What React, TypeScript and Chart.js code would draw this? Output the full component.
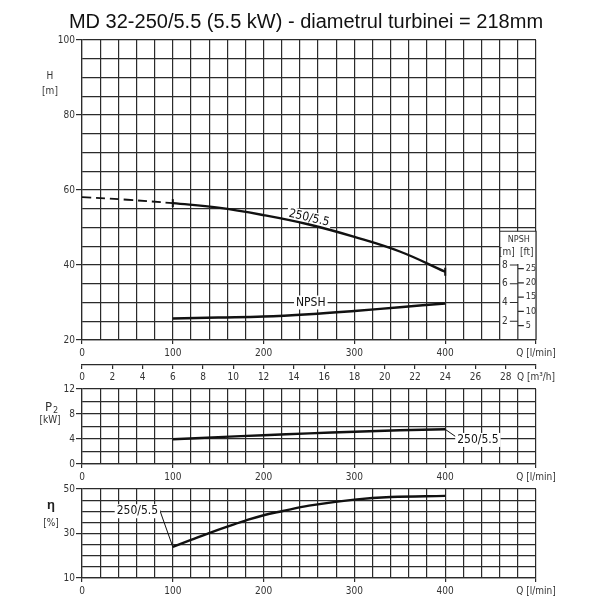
import { useEffect, useRef } from 'react';
import { Chart, registerables } from 'chart.js';

Chart.register(...registerables);

const TITLE = 'MD 32-250/5.5 (5.5 kW) - diametrul turbinei = 218mm';
const CURVE_NAME = '250/5.5';

// Head curve (dashed part below minimum flow, then solid)
const headDashQ = [0, 50, 100];
const headDashH = [58.1, 57.4, 56.5];
const headQ = [100, 150, 200, 250, 300, 350, 400];
const headH = [56.5, 55.3, 53.3, 50.8, 47.5, 43.6, 38.2];
// NPSH [m]
const npshQ = [100, 150, 200, 250, 300, 350, 400];
const npshM = [2.3, 2.4, 2.5, 2.75, 3.1, 3.5, 3.9];
// Power P2 [kW]
const powerQ = [100, 150, 200, 250, 300, 350, 400];
const powerKW = [3.95, 4.3, 4.6, 4.9, 5.15, 5.4, 5.55];
// Efficiency [%]
const effQ = [100, 120, 140, 160, 180, 200, 220, 250, 300, 340, 400];
const effPct = [24.0, 27.1, 30.2, 33.1, 35.8, 38.2, 40.0, 42.5, 45.2, 46.4, 46.9];

// Tick labels
const qTicks = [0, 100, 200, 300, 400];
const m3hTicks = [0, 2, 4, 6, 8, 10, 12, 14, 16, 18, 20, 22, 24, 26, 28];
const headTicks = [20, 40, 60, 80, 100];
const powerTicks = [0, 4, 8, 12];
const effTicks = [10, 30, 50];
const npshMTicks = [2, 4, 6, 8];
const npshFtTicks = [5, 10, 15, 20, 25];

const GRID = '#2b2b2b';
const TXT = '#333';
const INK = '#111';
const NARROW = "'Liberation Sans Narrow', 'DejaVu Sans Condensed', 'Roboto Condensed', 'Liberation Sans', sans-serif";
const tickFont = { family: NARROW, size: 10 };

const xy = (xs: number[], ys: number[]) => xs.map((x, i) => ({ x, y: ys[i] }));

function gridOpts(isLabeled: (v: number) => boolean, tickLength: number) {
  return {
    color: GRID,
    lineWidth: 1.2,
    tickLength,
    tickWidth: 1.2,
    tickColor: (c: any) => (c.tick && isLabeled(c.tick.value) ? GRID : 'rgba(0,0,0,0)'),
  };
}

function qScale(height: number) {
  return {
    type: 'linear',
    min: 0,
    max: 500,
    position: 'bottom',
    ticks: {
      stepSize: 20,
      autoSkip: false,
      maxRotation: 0,
      minRotation: 0,
      padding: 3,
      color: TXT,
      font: tickFont,
      callback: (v: number) => (qTicks.includes(v) ? String(v) : v === 500 ? 'Q [l/min]' : ''),
    },
    grid: gridOpts((v) => qTicks.includes(v) || v === 500, 4),
    border: { display: true, color: GRID, width: 1.2 },
    afterFit: (s: any) => {
      s.height = height;
    },
  };
}

function yScale(min: number, max: number, step: number, labels: number[]) {
  return {
    type: 'linear',
    min,
    max,
    position: 'left',
    ticks: {
      stepSize: step,
      autoSkip: false,
      padding: 1,
      color: TXT,
      font: tickFont,
      callback: (v: number) => (labels.includes(v) ? String(v) : ''),
    },
    grid: gridOpts((v) => labels.includes(v), 6),
    border: { display: true, color: GRID, width: 1.2 },
    afterFit: (s: any) => {
      s.width = 78;
    },
  };
}

const rightSpacer = {
  position: 'right',
  display: true,
  ticks: { display: false },
  grid: { display: false, drawTicks: false },
  border: { display: false },
  afterFit: (s: any) => {
    s.width = 72;
  },
};

function text(ctx: CanvasRenderingContext2D, t: string, x: number, y: number, font: string, align: CanvasTextAlign = 'center', color = TXT) {
  ctx.save();
  ctx.font = font;
  ctx.fillStyle = color;
  ctx.textAlign = align;
  ctx.textBaseline = 'middle';
  ctx.fillText(t, x, y);
  ctx.restore();
}

function boxedText(ctx: CanvasRenderingContext2D, t: string, x: number, y: number, font: string, angle = 0) {
  ctx.save();
  ctx.translate(x, y);
  ctx.rotate(angle);
  ctx.font = font;
  const w = ctx.measureText(t).width;
  ctx.fillStyle = '#fff';
  ctx.fillRect(-w / 2 - 2, -7, w + 4, 14);
  ctx.fillStyle = INK;
  ctx.textAlign = 'center';
  ctx.textBaseline = 'middle';
  ctx.fillText(t, 0, 0);
  ctx.restore();
  return w;
}

const LABEL_FONT = `12px ${NARROW}`;
const SMALL_FONT = `9px ${NARROW}`;
const AXIS_FONT = `10px ${NARROW}`;

const mainDecor = {
  id: 'mainDecor',
  beforeDatasetsDraw(chart: any) {
    const { ctx } = chart;
    const { x, y, yN } = chart.scales;
    const l = x.getPixelForValue(460);
    const m = x.getPixelForValue(480);
    const r = x.getPixelForValue(500);
    const t = y.getPixelForValue(49);
    const b = y.getPixelForValue(20);
    ctx.save();
    ctx.fillStyle = '#fff';
    ctx.fillRect(l, t, r - l, b - t - 1);
    ctx.strokeStyle = GRID;
    ctx.lineWidth = 1.2;
    ctx.beginPath();
    ctx.moveTo(l, b);
    ctx.lineTo(l, t);
    ctx.lineTo(r, t);
    ctx.lineTo(r, b);
    ctx.moveTo(m, yN.getPixelForValue(8) - 1);
    ctx.lineTo(m, b);
    for (const v of npshMTicks) {
      const py = yN.getPixelForValue(v);
      ctx.moveTo(m - 8, py);
      ctx.lineTo(m, py);
    }
    for (const f of npshFtTicks) {
      const py = yN.getPixelForValue(f * 0.3048);
      ctx.moveTo(m, py);
      ctx.lineTo(m + 6, py);
    }
    ctx.stroke();
    ctx.restore();
    for (const v of npshMTicks) text(ctx, String(v), m - 10, yN.getPixelForValue(v), AXIS_FONT, 'right');
    for (const f of npshFtTicks) text(ctx, String(f), m + 8, yN.getPixelForValue(f * 0.3048), SMALL_FONT, 'left');
    text(ctx, 'NPSH', m + 1, t + 8, SMALL_FONT);
    text(ctx, '[m]', m - 11, t + 21, AXIS_FONT);
    text(ctx, '[ft]', m + 9, t + 21, AXIS_FONT);

    // curve labels
    boxedText(ctx, CURVE_NAME, x.getPixelForValue(250), y.getPixelForValue(52.5), LABEL_FONT, (13 * Math.PI) / 180);
    boxedText(ctx, 'NPSH', x.getPixelForValue(252), y.getPixelForValue(30), LABEL_FONT);
  },
  afterDraw(chart: any) {
    const { ctx, chartArea } = chart;
    const { y } = chart.scales;
    const cx = chartArea.left - 32;
    text(ctx, 'H', cx, y.getPixelForValue(90.2), AXIS_FONT);
    text(ctx, '[m]', cx, y.getPixelForValue(86.2), AXIS_FONT);
  },
};

const powerDecor = {
  id: 'powerDecor',
  beforeDatasetsDraw(chart: any) {
    const { ctx } = chart;
    const { x, y } = chart.scales;
    const lx = x.getPixelForValue(436);
    const ly = y.getPixelForValue(3.85);
    ctx.save();
    ctx.font = LABEL_FONT;
    const w = ctx.measureText(CURVE_NAME).width;
    ctx.strokeStyle = INK;
    ctx.lineWidth = 1;
    ctx.beginPath();
    ctx.moveTo(x.getPixelForValue(400), y.getPixelForValue(5.55));
    ctx.lineTo(lx - w / 2 - 1, ly - 3);
    ctx.stroke();
    ctx.restore();
    boxedText(ctx, CURVE_NAME, lx, ly, LABEL_FONT);
  },
  afterDraw(chart: any) {
    const { ctx, chartArea } = chart;
    const { y } = chart.scales;
    const cx = chartArea.left - 32;
    text(ctx, 'P', cx - 5, y.getPixelForValue(9), `13px ${NARROW}`, 'left');
    text(ctx, '2', cx + 3, y.getPixelForValue(8.6), `9px ${NARROW}`, 'left');
    text(ctx, '[kW]', cx, y.getPixelForValue(7), AXIS_FONT);
  },
};

const effDecor = {
  id: 'effDecor',
  beforeDatasetsDraw(chart: any) {
    const { ctx } = chart;
    const { x, y } = chart.scales;
    const lx = x.getPixelForValue(61);
    const ly = y.getPixelForValue(40);
    ctx.save();
    ctx.font = LABEL_FONT;
    const w = ctx.measureText(CURVE_NAME).width;
    ctx.strokeStyle = INK;
    ctx.lineWidth = 1;
    ctx.beginPath();
    ctx.moveTo(lx + w / 2 + 1, ly - 3);
    ctx.lineTo(x.getPixelForValue(100), y.getPixelForValue(24));
    ctx.stroke();
    ctx.restore();
    boxedText(ctx, CURVE_NAME, lx, ly, LABEL_FONT);
  },
  afterDraw(chart: any) {
    const { ctx, chartArea } = chart;
    const { y } = chart.scales;
    const cx = chartArea.left - 31;
    text(ctx, 'η', cx, y.getPixelForValue(42.6), `bold 13px 'Liberation Sans', sans-serif`, 'center', '#222');
    text(ctx, '[%]', cx, y.getPixelForValue(34.7), AXIS_FONT);
  },
};

const baseOpts = (padTop: number) => ({
  responsive: false,
  maintainAspectRatio: false,
  animation: false,
  events: [],
  layout: { padding: { left: 4, right: 0, top: padTop, bottom: 0 } },
  plugins: { legend: { display: false }, tooltip: { enabled: false }, title: { display: false } },
});

const solid = (data: any, yAxisID = 'y') => ({
  data,
  yAxisID,
  borderColor: INK,
  borderWidth: 2.4,
  pointRadius: 0,
  tension: 0.4,
  fill: false,
});

function mainConfig(): any {
  const o: any = baseOpts(0);
  o.plugins.title = {
    display: true,
    text: TITLE,
    color: INK,
    font: { family: "'Liberation Sans', Arial, sans-serif", size: 20, weight: 'normal', lineHeight: 1.2 },
    padding: { top: 10, bottom: 6 },
  };
  o.scales = {
    x: qScale(25),
    x2: {
      type: 'linear',
      min: 0,
      max: 30,
      position: 'bottom',
      ticks: {
        stepSize: 2,
        autoSkip: false,
        maxRotation: 0,
        minRotation: 0,
        padding: 2,
        color: TXT,
        font: tickFont,
        callback: (v: number) => (m3hTicks.includes(v) ? String(v) : v === 30 ? 'Q [m³/h]' : ''),
      },
      grid: { drawOnChartArea: false, color: GRID, lineWidth: 1.2, tickLength: 4 },
      border: { display: true, color: GRID, width: 1.2 },
      afterFit: (s: any) => {
        s.height = 20;
      },
    },
    y: yScale(20, 100, 5, headTicks),
    yN: { type: 'linear', display: false, min: 0, max: 32 },
    yR: rightSpacer,
  };
  const lastIdx = headQ.length - 1;
  return {
    type: 'line',
    data: {
      datasets: [
        {
          data: xy(headDashQ, headDashH),
          borderColor: INK,
          borderWidth: 1.8,
          borderDash: [9, 5],
          pointRadius: 0,
          tension: 0.4,
        },
        {
          ...solid(xy(headQ, headH)),
          pointStyle: 'line',
          rotation: 90,
          pointBorderColor: INK,
          pointBorderWidth: 2,
          pointRadius: (c: any) => (c.dataIndex === 0 || c.dataIndex === lastIdx ? 4 : 0),
        },
        solid(xy(npshQ, npshM), 'yN'),
      ],
    },
    options: o,
    plugins: [mainDecor],
  };
}

function powerConfig(): any {
  const o: any = baseOpts(9);
  o.scales = { x: qScale(18), y: yScale(0, 12, 2, powerTicks), yR: rightSpacer };
  return {
    type: 'line',
    data: { datasets: [solid(xy(powerQ, powerKW))] },
    options: o,
    plugins: [powerDecor],
  };
}

function effConfig(): any {
  const o: any = baseOpts(6);
  o.scales = { x: qScale(30), y: yScale(10, 50, 5, effTicks), yR: rightSpacer };
  return {
    type: 'line',
    data: { datasets: [solid(xy(effQ, effPct))] },
    options: o,
    plugins: [effDecor],
  };
}

export default function App() {
  const r1 = useRef<HTMLCanvasElement>(null);
  const r2 = useRef<HTMLCanvasElement>(null);
  const r3 = useRef<HTMLCanvasElement>(null);
  useEffect(() => {
    const charts = [
      new Chart(r1.current as HTMLCanvasElement, mainConfig()),
      new Chart(r2.current as HTMLCanvasElement, powerConfig()),
      new Chart(r3.current as HTMLCanvasElement, effConfig()),
    ];
    return () => charts.forEach((c) => c.destroy());
  }, []);
  const cs = (top: number) => ({ position: 'absolute' as const, left: 0, top });
  return (
    <div style={{ position: 'absolute', left: 0, top: 0, width: 608, height: 608, background: '#fff' }}>
      <canvas ref={r1} width={608} height={385} style={cs(0)} />
      <canvas ref={r2} width={608} height={102} style={cs(380)} />
      <canvas ref={r3} width={608} height={126} style={cs(482)} />
    </div>
  );
}
